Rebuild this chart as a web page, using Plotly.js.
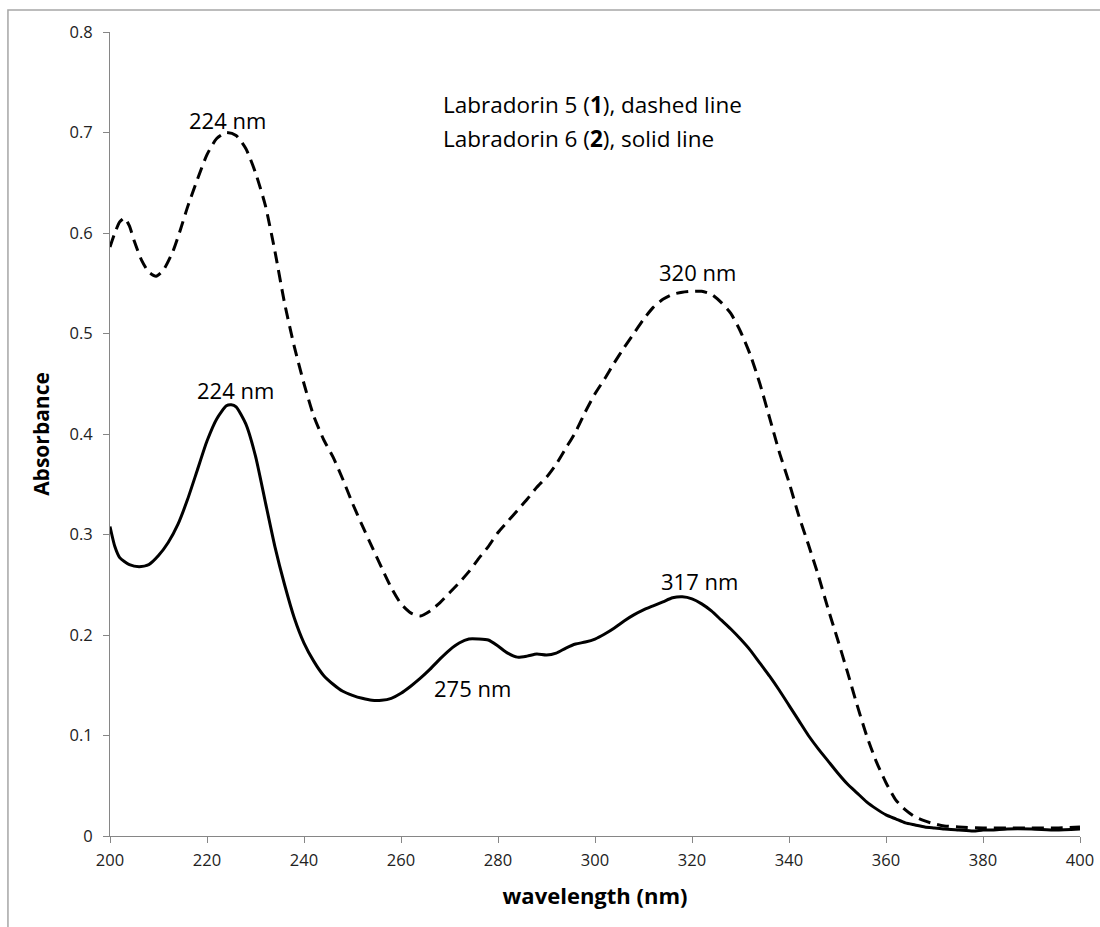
<!DOCTYPE html>
<html>
<head>
<meta charset="utf-8">
<script src="https://cdn.plot.ly/plotly-3.0.1.min.js"></script>
<style>
  html, body { margin: 0; padding: 0; background: #ffffff; }
  #chart { width: 1100px; height: 927px; }
</style>
</head>
<body>
<div id="chart"></div>
<script>
// Labradorin 5 (1) — dashed line
const wl5 = [200, 201, 202, 203, 204, 205, 206.5, 208, 209.5, 211, 213, 214.5, 216, 218, 220, 222, 224, 226, 228, 230,
  232, 234, 236, 238, 240, 242, 244, 246, 248, 250, 252, 254, 256, 258, 260, 262, 264, 266, 268, 270,
  272, 274, 276, 278, 280, 282, 284, 286, 288, 290, 292, 294, 296, 298, 300, 302, 304, 306, 308, 310,
  312, 314, 316, 318, 320, 322, 324, 326, 328, 330, 332, 334, 336, 338, 340, 342, 344, 346, 348, 350,
  352, 354, 356, 358, 360, 362, 364, 366, 368, 370, 372, 375, 380, 385, 390, 395, 400];
const abs5 = [0.586, 0.600, 0.611, 0.615, 0.607, 0.592, 0.573, 0.561, 0.557, 0.563, 0.582, 0.603, 0.626, 0.653, 0.678, 0.694, 0.700, 0.697, 0.684, 0.660,
  0.628, 0.582, 0.530, 0.487, 0.450, 0.418, 0.395, 0.377, 0.355, 0.331, 0.309, 0.288, 0.267, 0.247, 0.231, 0.222, 0.219, 0.224, 0.232, 0.242,
  0.252, 0.263, 0.276, 0.288, 0.302, 0.313, 0.324, 0.335, 0.347, 0.357, 0.370, 0.386, 0.402, 0.422, 0.440, 0.455, 0.471, 0.486, 0.500, 0.514,
  0.526, 0.534, 0.539, 0.541, 0.542, 0.542, 0.539, 0.531, 0.520, 0.502, 0.479, 0.450, 0.416, 0.382, 0.352, 0.319, 0.290, 0.260, 0.227, 0.196,
  0.164, 0.131, 0.100, 0.074, 0.053, 0.036, 0.026, 0.019, 0.015, 0.012, 0.010, 0.009, 0.008, 0.008, 0.008, 0.008, 0.009];

// Labradorin 6 (2) — solid line
const wl6 = [200, 201, 202, 204, 206, 208, 210, 212, 214, 216, 218, 220, 222, 224, 225, 226, 228, 230, 232, 234,
  236, 238, 240, 242, 244, 246, 248, 250, 252, 254, 256, 258, 260, 262, 264, 266, 268, 270, 272, 274,
  276, 278, 280, 282, 284, 286, 288, 290, 292, 294, 296, 298, 300, 302, 304, 306, 308, 310, 312, 314,
  316, 318, 320, 322, 324, 326, 328, 330, 332, 334, 336, 338, 340, 342, 344, 346, 348, 350, 352, 354,
  356, 358, 360, 362, 364, 366, 368, 370, 372, 375, 378, 380, 382, 385, 390, 395, 400];
const abs6 = [0.308, 0.288, 0.277, 0.270, 0.268, 0.270, 0.279, 0.292, 0.310, 0.335, 0.364, 0.393, 0.415, 0.428, 0.429, 0.427, 0.410, 0.378, 0.333, 0.288,
  0.250, 0.217, 0.192, 0.174, 0.160, 0.151, 0.144, 0.140, 0.137, 0.135, 0.135, 0.137, 0.142, 0.149, 0.157, 0.166, 0.176, 0.185, 0.192, 0.196,
  0.196, 0.195, 0.189, 0.182, 0.178, 0.179, 0.181, 0.180, 0.182, 0.187, 0.191, 0.193, 0.196, 0.201, 0.207, 0.214, 0.220, 0.225, 0.229, 0.233,
  0.237, 0.238, 0.236, 0.231, 0.224, 0.215, 0.206, 0.196, 0.185, 0.172, 0.159, 0.145, 0.130, 0.115, 0.100, 0.087, 0.075, 0.063, 0.052, 0.043,
  0.034, 0.027, 0.021, 0.017, 0.013, 0.011, 0.009, 0.008, 0.007, 0.006, 0.005, 0.006, 0.006, 0.007, 0.007, 0.006, 0.007];

// Axis ticks
const xTicks = [200, 220, 240, 260, 280, 300, 320, 340, 360, 380, 400];
const yTicks = [0, 0.1, 0.2, 0.3, 0.4, 0.5, 0.6, 0.7, 0.8];
const yTickText = ["0", "0.1", "0.2", "0.3", "0.4", "0.5", "0.6", "0.7", "0.8"];

// Peak labels
const peakLabels = ["224 nm", "224 nm", "320 nm", "317 nm", "275 nm"];
const legendLines = ["Labradorin 5 (<b>1</b>), dashed line", "Labradorin 6 (<b>2</b>), solid line"];

const FONT = "Open Sans, Noto Sans, sans-serif";

const traces = [
  {
    x: wl5, y: abs5, type: "scatter", mode: "lines", name: "Labradorin 5 (1)",
    line: { color: "#000000", width: 3, dash: "12px,7px", shape: "spline", smoothing: 0.6 },
    hoverinfo: "x+y"
  },
  {
    x: wl6, y: abs6, type: "scatter", mode: "lines", name: "Labradorin 6 (2)",
    line: { color: "#000000", width: 3, shape: "spline", smoothing: 0.6 },
    hoverinfo: "x+y"
  }
];

const peakPos = [
  { x: 224.3, y: 0.7125 },
  { x: 225.8, y: 0.444 },
  { x: 321.2, y: 0.561 },
  { x: 321.6, y: 0.254 },
  { x: 274.8, y: 0.147 }
];

const annotations = peakLabels.map((t, i) => ({
  x: peakPos[i].x, y: peakPos[i].y, xref: "x", yref: "y",
  text: t, showarrow: false, xanchor: "center", yanchor: "middle",
  font: { family: FONT, size: 22, color: "#000000" }
}));

const legendY = [0.728, 0.694];
legendLines.forEach((t, i) => {
  annotations.push({
    x: 268.3, y: legendY[i], xref: "x", yref: "y",
    text: t, showarrow: false, xanchor: "left", yanchor: "middle",
    font: { family: FONT, size: 22.5, color: "#000000" }
  });
});

const layout = {
  width: 1100, height: 927,
  margin: { l: 110, r: 20, t: 32, b: 91 },
  paper_bgcolor: "#ffffff", plot_bgcolor: "#ffffff",
  showlegend: false,
  font: { family: FONT, color: "#000000" },
  xaxis: {
    range: [200, 400], tickvals: xTicks, ticktext: xTicks.map(String),
    showgrid: false, zeroline: false,
    showline: true, linecolor: "#868686", linewidth: 1,
    ticks: "outside", ticklen: 6, tickcolor: "#868686",
    ticklabelstandoff: 3,
    tickfont: { family: FONT, size: 16.5, color: "#222222" },
    title: { text: "<b>wavelength (nm)</b>", font: { family: FONT, size: 22, color: "#000000" }, standoff: 18 }
  },
  yaxis: {
    range: [0, 0.8], tickvals: yTicks, ticktext: yTickText,
    showgrid: false, zeroline: false,
    showline: true, linecolor: "#868686", linewidth: 1,
    ticks: "outside", ticklen: 6, tickcolor: "#868686",
    ticklabelstandoff: 7,
    tickfont: { family: FONT, size: 16.5, color: "#222222" },
    title: { text: "<b>Absorbance</b>", font: { family: FONT, size: 21, color: "#000000" }, standoff: 14 }
  },
  shapes: [
    {
      type: "path", xref: "paper", yref: "paper",
      path: "M -0.1052,-0.2 L -0.1052,1.0274 L 1.2,1.0274",
      line: { color: "#a6a6a6", width: 1.5 }
    }
  ],
  annotations: annotations
};

Plotly.newPlot("chart", traces, layout, { displayModeBar: false, staticPlot: true });
</script>
</body>
</html>
